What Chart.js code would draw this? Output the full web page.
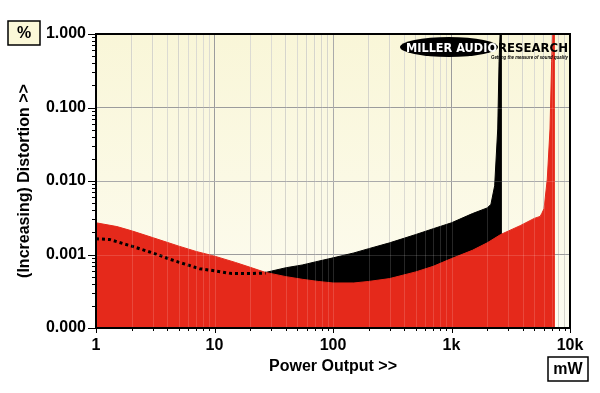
<!DOCTYPE html>
<html>
<head>
<meta charset="utf-8">
<title>Distortion vs Power Output</title>
<script src="https://cdn.jsdelivr.net/npm/chart.js@4.4.1/dist/chart.umd.min.js"></script>
<style>
  html, body { margin: 0; padding: 0; background: #fff; }
  #wrap { width: 600px; height: 393px; }
</style>
</head>
<body>
<div id="wrap"><canvas id="thd-chart" width="600" height="393"></canvas></div>
<script>
// === Data (x in mW, y in %) ===
const redX = [1, 1.5, 2, 3, 5, 7, 10, 15, 20, 27, 40, 55, 75, 100, 150, 200, 300, 500, 700, 1000,
              1500, 2000, 2600, 3800, 5000, 5600, 5770, 6040, 6430, 6780, 7000, 7140, 7250, 7330, 7335];
const redY = [0.0027, 0.0024, 0.0021, 0.0017, 0.0013, 0.0011, 0.00095, 0.00078, 0.00067, 0.00057,
              0.0005, 0.00046, 0.00043, 0.00041, 0.00041, 0.00043, 0.00047, 0.00058, 0.00069, 0.00088,
              0.00114, 0.00144, 0.00187, 0.00247, 0.0031, 0.0033, 0.0036, 0.0042, 0.0106, 0.051,
              0.42, 1.0, 1.5, 1.5, 0.00005];

const blackX = [27, 40, 55, 75, 100, 150, 200, 300, 500, 700, 1000, 1500, 2000, 2150,
                2313, 2455, 2520, 2570, 2600, 2618, 2620];
const blackY = [0.00057, 0.00066, 0.00072, 0.00081, 0.0009, 0.00105, 0.0012, 0.00144, 0.00187, 0.00224,
                0.0027, 0.0036, 0.0043, 0.0048, 0.0086, 0.051, 0.42, 1.0, 1.5, 1.5, 0.00005];

const dotX = [1, 1.3, 2, 3, 4.5, 7.5, 10, 14, 20, 27];
const dotY = [0.00164, 0.0016, 0.0013, 0.00105, 0.00083, 0.00064, 0.0006, 0.00055, 0.00055, 0.00056];

const yTicks = [0.0001, 0.001, 0.01, 0.1, 1];
const yLabels = ["0.000", "0.001", "0.010", "0.100", "1.000"];
const xDecades = [1, 10, 100, 1000, 10000];
const xLabels = ["1", "10", "100", "1k", "10k"];

const RED = "#e5291b";
const FONT = "'Liberation Sans', Arial, sans-serif";
const LOGO_FONT = "'DejaVu Sans', 'Liberation Sans', sans-serif";

const toPoints = (xs, ys) => xs.map((x, i) => ({ x: x, y: ys[i] }));

// all x grid positions: 1..9 in every decade, then 10k
const xGrid = [];
xDecades.slice(0, -1).forEach(d => { for (let k = 1; k < 10; k++) xGrid.push(d * k); });
xGrid.push(10000);
const isDecade = v => xDecades.includes(v);

// === Plugin: background, overlay grid, frame, minor ticks, boxes and logo ===
const decorPlugin = {
    id: "decor",
    beforeDraw(chart) {
        const { ctx, chartArea: a } = chart;
        ctx.save();
        ctx.fillStyle = "#fff";
        ctx.fillRect(0, 0, chart.width, chart.height);
        const g = ctx.createLinearGradient(0, a.top, 0, a.bottom);
        g.addColorStop(0, "#f9f6d8");
        g.addColorStop(1, "#fdfcf1");
        ctx.fillStyle = g;
        ctx.fillRect(a.left, a.top, a.right - a.left, a.bottom - a.top);
        ctx.restore();
    },
    afterDatasetsDraw(chart) {
        // faint lighter lines over the filled areas
        const { ctx, chartArea: a, scales } = chart;
        ctx.save();
        ctx.beginPath();
        ctx.rect(a.left, a.top, a.right - a.left, a.bottom - a.top);
        ctx.clip();
        ctx.strokeStyle = "rgba(255,255,255,0.15)";
        ctx.lineWidth = 1;
        xGrid.forEach(v => {
            const px = Math.round(scales.x.getPixelForValue(v)) + 0.5;
            ctx.beginPath(); ctx.moveTo(px, a.top); ctx.lineTo(px, a.bottom); ctx.stroke();
        });
        yTicks.forEach(v => {
            const py = Math.round(scales.y.getPixelForValue(v)) + 0.5;
            ctx.beginPath(); ctx.moveTo(a.left, py); ctx.lineTo(a.right, py); ctx.stroke();
        });
        ctx.restore();
    },
    afterDraw(chart) {
        const { ctx, chartArea: a, scales } = chart;
        ctx.save();

        // tick marks
        ctx.strokeStyle = "#000";
        ctx.lineWidth = 1;
        const yMinor = [];
        yTicks.slice(0, -1).forEach(d => { for (let k = 1; k < 10; k++) yMinor.push(d * k); });
        yMinor.push(1);
        yMinor.forEach(v => {
            const py = Math.round(scales.y.getPixelForValue(v)) + 0.5;
            const len = yTicks.includes(v) ? 8 : 4;
            ctx.beginPath(); ctx.moveTo(a.left - len, py); ctx.lineTo(a.left, py); ctx.stroke();
        });
        xGrid.forEach(v => {
            const px = Math.round(scales.x.getPixelForValue(v)) + 0.5;
            const len = isDecade(v) ? 5 : 3;
            ctx.beginPath(); ctx.moveTo(px, a.bottom); ctx.lineTo(px, a.bottom + len); ctx.stroke();
        });

        // frame
        ctx.lineWidth = 2;
        ctx.strokeRect(a.left, a.top, a.right - a.left, a.bottom - a.top);

        // unit boxes
        ctx.lineWidth = 1.5;
        ctx.fillStyle = "#fbf8d8";
        ctx.fillRect(8, 21, 32, 24);
        ctx.strokeRect(8, 21, 32, 24);
        ctx.fillStyle = "#fff";
        ctx.fillRect(548, 357, 40, 24);
        ctx.strokeRect(548, 357, 40, 24);
        ctx.fillStyle = "#000";
        ctx.font = "bold 16px " + FONT;
        ctx.textAlign = "center";
        ctx.textBaseline = "middle";
        ctx.fillText("%", 24, 34);
        ctx.fillText("mW", 568, 370);

        // logo
        ctx.beginPath();
        ctx.ellipse(449, 47, 49, 10, 0, 0, Math.PI * 2);
        ctx.fillStyle = "#000";
        ctx.fill();
        ctx.textBaseline = "alphabetic";
        ctx.font = "bold 13px " + LOGO_FONT;
        ctx.fillStyle = "#fff";
        ctx.textAlign = "left";
        ctx.fillText("MILLER AUDIO", 406, 52, 91);
        ctx.fillStyle = "#000";
        ctx.fillText("RESEARCH", 498, 52, 70);
        ctx.font = "italic bold 6px " + FONT;
        ctx.textAlign = "right";
        ctx.fillText("Getting the measure of sound quality", 568, 58.5, 77);

        ctx.restore();
    }
};

// === Render chart ===
document.addEventListener("DOMContentLoaded", () => {
    const canvas = document.getElementById("thd-chart");
    const ctx = canvas.getContext("2d");

    new Chart(ctx, {
        type: "line",
        data: {
            datasets: [
                {
                    label: "dotted",
                    data: toPoints(dotX, dotY),
                    borderColor: "#000",
                    borderWidth: 3,
                    borderDash: [3, 3],
                    pointRadius: 0,
                    fill: false,
                    order: 0
                },
                {
                    label: "red",
                    data: toPoints(redX, redY),
                    borderColor: RED,
                    backgroundColor: RED,
                    borderWidth: 1,
                    pointRadius: 0,
                    fill: "start",
                    order: 1
                },
                {
                    label: "black",
                    data: toPoints(blackX, blackY),
                    borderColor: "#000",
                    backgroundColor: "#000",
                    borderWidth: 1,
                    pointRadius: 0,
                    fill: "start",
                    order: 2
                }
            ]
        },
        options: {
            responsive: false,
            animation: false,
            layout: { padding: { top: 34, right: 30, left: 0, bottom: 0 } },
            plugins: {
                legend: { display: false },
                tooltip: { enabled: false }
            },
            scales: {
                x: {
                    type: "logarithmic",
                    min: 1,
                    max: 10000,
                    afterBuildTicks: scale => { scale.ticks = xGrid.map(v => ({ value: v, major: isDecade(v) })); },
                    afterFit: scale => { scale.height = 65; },
                    grid: {
                        drawTicks: false,
                        color: c => (c.tick && isDecade(c.tick.value)) ? "#9c9c9c" : "#d6d5cc"
                    },
                    border: { display: false },
                    ticks: {
                        autoSkip: false,
                        maxRotation: 0,
                        padding: 8,
                        color: "#000",
                        font: { family: FONT, size: 16, weight: "bold" },
                        callback: value => isDecade(value) ? xLabels[xDecades.indexOf(value)] : ""
                    },
                    title: {
                        display: true,
                        text: "Power Output >>",
                        color: "#000",
                        font: { family: FONT, size: 16, weight: "bold" },
                        padding: { top: 0, bottom: 17 }
                    }
                },
                y: {
                    type: "logarithmic",
                    min: 0.0001,
                    max: 1,
                    afterBuildTicks: scale => { scale.ticks = yTicks.map(v => ({ value: v, major: true })); },
                    afterFit: scale => { scale.width = 96; },
                    grid: { drawTicks: false, color: "#9c9c9c" },
                    border: { display: false },
                    ticks: {
                        autoSkip: false,
                        padding: 10,
                        color: "#000",
                        font: { family: FONT, size: 16, weight: "bold" },
                        callback: value => yLabels[yTicks.indexOf(value)]
                    },
                    title: {
                        display: true,
                        text: "(Increasing) Distortion >>",
                        color: "#000",
                        font: { family: FONT, size: 16, weight: "bold" },
                        padding: { top: 15, bottom: 0 }
                    }
                }
            }
        },
        plugins: [decorPlugin]
    });
});
</script>
</body>
</html>
